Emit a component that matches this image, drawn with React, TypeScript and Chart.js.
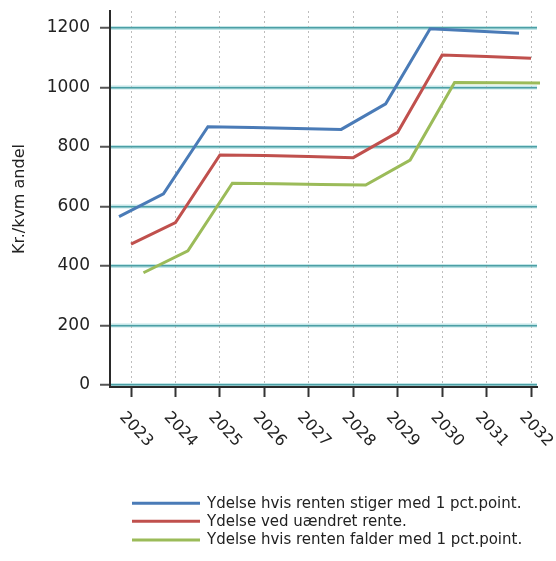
import React, { useEffect, useRef } from "react";
import { Chart, registerables } from "chart.js";

Chart.register(...registerables);

const YEARS = [2023, 2024, 2025, 2026, 2027, 2028, 2029, 2030, 2031, 2032];
const Y_TICKS = [0, 200, 400, 600, 800, 1000, 1200];
const Y_TITLE = "Kr./kvm andel";
const SERIES_LABELS = [
  "Ydelse hvis renten stiger med 1 pct.point.",
  "Ydelse ved uændret rente.",
  "Ydelse hvis renten falder med 1 pct.point.",
];
const RISE = [566, 642, 868, 865, 862, 859, 945, 1197, 1190, 1182];
const UNCHANGED = [473, 546, 773, 771, 768, 764, 849, 1109, 1104, 1098];
const FALL = [377, 451, 678, 676, 674, 672, 756, 1017, 1016, 1015];
const SHIFTS = [-0.27, 0, 0.28];
const COLORS = ["#4a7bb7", "#c0504d", "#9bbb59"];

const FONT = "'DejaVu Sans', sans-serif";
const TEXT = "#222222";
const W = 548;
const H = 545;

const gridHalo = {
  id: "gridHalo",
  beforeDraw(chart: any) {
    const { ctx, chartArea, scales } = chart;
    const y = scales.y;
    ctx.save();
    ctx.strokeStyle = "rgba(175,222,224,0.75)";
    ctx.lineWidth = 4;
    y.ticks.forEach((t: any) => {
      const py = y.getPixelForValue(t.value);
      ctx.beginPath();
      ctx.moveTo(chartArea.left, py);
      ctx.lineTo(chartArea.right, py);
      ctx.stroke();
    });
    ctx.restore();
  },
};

const customText = {
  id: "customText",
  afterDraw(chart: any) {
    const { ctx, scales } = chart;
    const x = scales.x;
    ctx.save();
    ctx.fillStyle = TEXT;
    ctx.font = `16px ${FONT}`;
    ctx.textAlign = "center";
    ctx.textBaseline = "middle";
    x.ticks.forEach((t: any) => {
      const px = x.getPixelForValue(t.value);
      ctx.save();
      ctx.translate(px + 5, 421.5);
      ctx.rotate((47 * Math.PI) / 180);
      ctx.fillText(String(t.value), 0, 0);
      ctx.restore();
    });
    const rows = [495.3, 513.3, 532];
    chart.data.datasets.forEach((ds: any, i: number) => {
      const yy = rows[i];
      ctx.strokeStyle = ds.borderColor;
      ctx.lineWidth = 3;
      ctx.beginPath();
      ctx.moveTo(124, yy);
      ctx.lineTo(192, yy);
      ctx.stroke();
      ctx.fillStyle = TEXT;
      ctx.font = `15px ${FONT}`;
      ctx.textAlign = "left";
      ctx.textBaseline = "middle";
      ctx.fillText(ds.label, 199, yy + 0.5);
    });
    ctx.restore();
  },
};

export default function App() {
  const ref = useRef<HTMLCanvasElement | null>(null);
  useEffect(() => {
    if (!ref.current) return;
    const series = [RISE, UNCHANGED, FALL];
    const chart = new Chart(ref.current, {
      type: "line",
      data: {
        datasets: series.map((vals, i) => ({
          label: SERIES_LABELS[i],
          data: YEARS.map((yr, j) => ({ x: yr + SHIFTS[i], y: vals[j] })),
          borderColor: COLORS[i],
          backgroundColor: COLORS[i],
          borderWidth: 3,
          pointRadius: 0,
          tension: 0,
          clip: 3,
        })),
      },
      options: {
        animation: false,
        responsive: false,
        devicePixelRatio: 1,
        layout: { padding: { top: 3, right: 19, bottom: 0, left: 0 } },
        plugins: { legend: { display: false }, tooltip: { enabled: false } },
        scales: {
          x: {
            type: "linear",
            min: 2022.527,
            max: 2032.135,
            afterBuildTicks: (s: any) => {
              s.ticks = YEARS.map((v) => ({ value: v }));
            },
            afterFit: (s: any) => {
              s.height = 166;
              s.paddingLeft = 0;
              s.paddingRight = 0;
              s.paddingTop = 0;
              s.paddingBottom = 0;
            },
            ticks: { display: false },
            grid: {
              color: "#bdbdbd",
              lineWidth: 1,
              drawTicks: true,
              tickLength: 10,
              tickColor: "#333333",
              tickWidth: 2,
              tickBorderDash: [],
            },
            border: { display: true, color: "#2a2a2a", width: 2, dash: [2, 3] },
          },
          y: {
            type: "linear",
            min: -7,
            max: 1257,
            afterBuildTicks: (s: any) => {
              s.ticks = Y_TICKS.map((v) => ({ value: v }));
            },
            afterFit: (s: any) => {
              s.width = 102;
              s.paddingLeft = 0;
              s.paddingRight = 0;
              s.paddingTop = 0;
              s.paddingBottom = 0;
            },
            ticks: {
              color: TEXT,
              font: { family: FONT, size: 17 },
              padding: 10,
              callback: (v: any) => String(v),
            },
            grid: {
              color: "#4c9fa5",
              lineWidth: 1.5,
              tickLength: 10,
              tickColor: "#555555",
              tickWidth: 2,
            },
            border: { display: true, color: "#2a2a2a", width: 2 },
            title: {
              display: true,
              text: Y_TITLE,
              color: TEXT,
              font: { family: FONT, size: 16 },
              padding: { top: 2, bottom: 0 },
            },
          },
        },
      },
      plugins: [gridHalo, customText],
    });
    return () => chart.destroy();
  }, []);
  return (
    <div style={{ position: "fixed", left: 8, top: 8, width: W, height: H }}>
      <canvas ref={ref} width={W} height={H} style={{ display: "block", width: W, height: H }} />
    </div>
  );
}
